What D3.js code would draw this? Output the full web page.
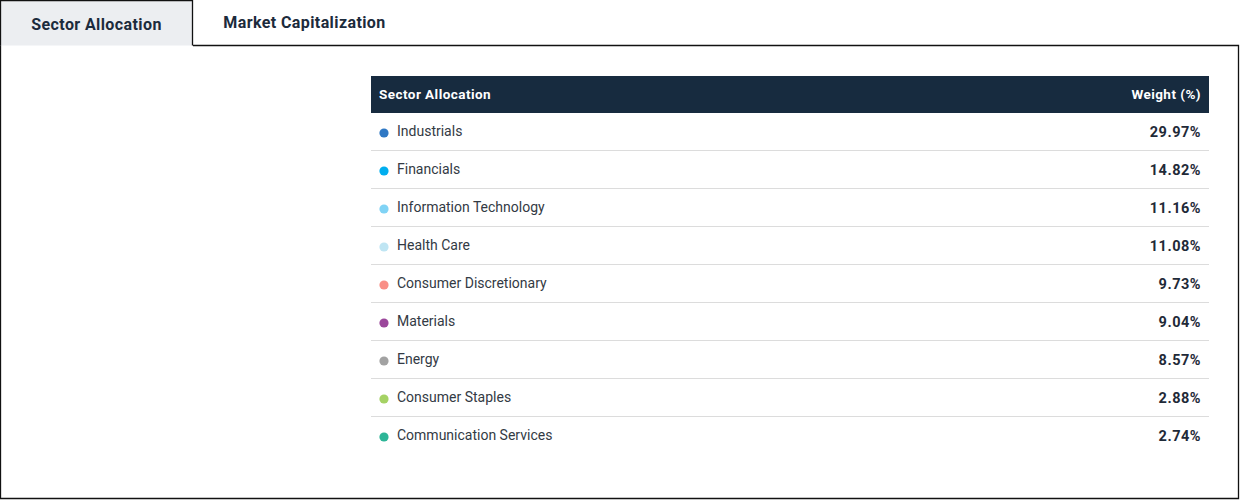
<!DOCTYPE html>
<html>
<head>
<meta charset="utf-8">
<script src="https://cdn.jsdelivr.net/npm/d3@7"></script>
<style>
  html, body { margin: 0; padding: 0; background: #fff; }
  svg { display: block; font-family: Roboto, "Open Sans", sans-serif; }
</style>
</head>
<body>
<div id="vis"></div>
<script>
// data
var sectors = ["Industrials", "Financials", "Information Technology", "Health Care",
  "Consumer Discretionary", "Materials", "Energy", "Consumer Staples", "Communication Services"];
var weights = [29.97, 14.82, 11.16, 11.08, 9.73, 9.04, 8.57, 2.88, 2.74];
var dotColors = ["#2f78c4", "#00aeef", "#80d3f5", "#bfe5f3", "#f98f86",
  "#9b479b", "#a2a2a2", "#a5d264", "#2db597"];
var tabs = ["Sector Allocation", "Market Capitalization"];
var headers = ["Sector Allocation", "Weight (%)"];

var width = 1240, height = 500;
var svg = d3.select("#vis").append("svg").attr("width", width).attr("height", height);

// tabs
var tabW = 193, tabH = 45;
var tabX = d3.scaleOrdinal().domain(tabs).range([tabW / 2, 304.5]);

// panel border
svg.append("path")
  .attr("d", `M${tabW},${tabH + 0.5}H${width - 1.5}V${height - 1.5}H0.5V${tabH}`)
  .attr("fill", "none").attr("stroke", "#111").attr("stroke-width", 1.3);

// active tab
svg.append("path")
  .attr("d", `M0.5,${tabH + 0.5}V0.5H${tabW - 0.5}V${tabH + 0.5}`)
  .attr("fill", "#eceef1").attr("stroke", "#111").attr("stroke-width", 1.3);

svg.selectAll("text.tab")
  .data(tabs)
  .enter().append("text")
  .attr("class", "tab")
  .attr("x", d => tabX(d))
  .attr("y", (d, i) => i == 0 ? 24 : 22)
  .attr("dy", "0.35em")
  .attr("text-anchor", "middle")
  .attr("fill", "#1c2b3c")
  .style("font-size", "16px")
  .style("letter-spacing", "0.4px")
  .style("font-weight", "bold")
  .text(d => d);

// table
var left = 371, right = 1209;
var headTop = 76, headH = 37;
var y = d3.scaleBand().domain(sectors).range([headTop + headH, headTop + headH + 38 * sectors.length]);

svg.append("rect")
  .attr("x", left).attr("y", headTop)
  .attr("width", right - left).attr("height", headH)
  .attr("fill", "#172b3f");

svg.selectAll("text.head")
  .data(headers)
  .enter().append("text")
  .attr("class", "head")
  .attr("x", (d, i) => i == 0 ? left + 8 : right - 8)
  .attr("y", headTop + headH / 2)
  .attr("dy", "0.35em")
  .attr("text-anchor", (d, i) => i == 0 ? "start" : "end")
  .attr("fill", "#fff")
  .style("font-size", "13.5px")
  .style("letter-spacing", "0.45px")
  .style("font-weight", "bold")
  .text(d => d);

var rows = svg.selectAll("g.row")
  .data(sectors)
  .enter().append("g")
  .attr("class", "row")
  .attr("transform", d => `translate(0,${y(d)})`);

rows.filter((d, i) => i < sectors.length - 1).append("line")
  .attr("x1", left).attr("x2", right)
  .attr("y1", y.bandwidth() - 0.5).attr("y2", y.bandwidth() - 0.5)
  .attr("stroke", "#dcdcdc");

rows.append("circle")
  .attr("cx", left + 13)
  .attr("cy", y.bandwidth() / 2 + 1)
  .attr("r", 4.6)
  .attr("fill", (d, i) => dotColors[i]);

rows.append("text")
  .attr("x", left + 26)
  .attr("y", y.bandwidth() / 2 - 0.5)
  .attr("dy", "0.35em")
  .attr("fill", "#333a44")
  .style("font-size", "14px")
  .text(d => d);

rows.append("text")
  .attr("x", right - 8)
  .attr("y", y.bandwidth() / 2 - 0.5)
  .attr("dy", "0.35em")
  .attr("text-anchor", "end")
  .attr("fill", "#1f2a38")
  .style("font-size", "14.5px")
  .style("letter-spacing", "0.5px")
  .style("font-weight", "bold")
  .text((d, i) => weights[i].toFixed(2) + "%");
</script>
</body>
</html>
